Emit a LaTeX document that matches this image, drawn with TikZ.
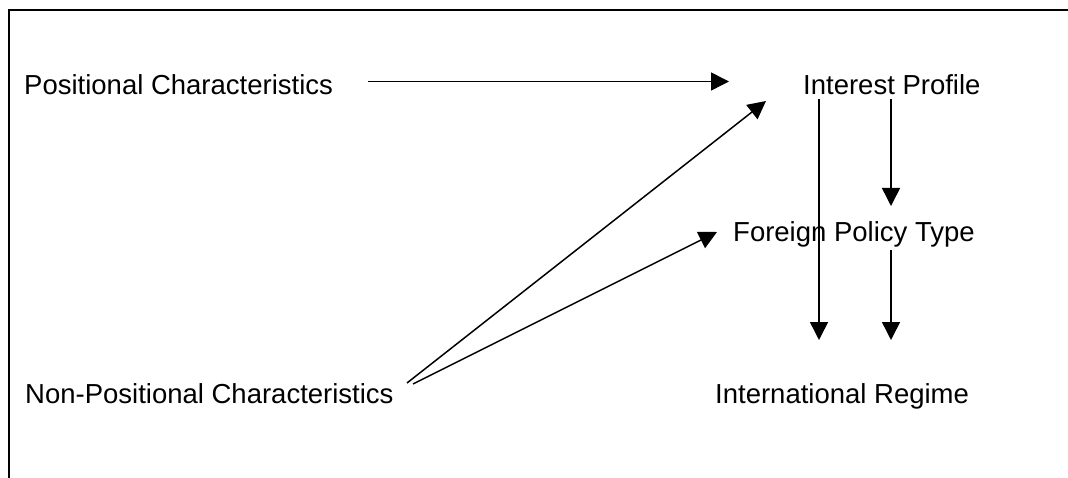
\documentclass[tikz,border=0pt]{standalone}
\usepackage{fontspec}
\setmainfont{Liberation Sans}
\usetikzlibrary{arrows.meta}
\begin{document}
\begin{tikzpicture}[x=1pt,y=-1pt,
  lbl/.style={anchor=base west,inner sep=0pt,font=\fontsize{27.5}{33}\selectfont},
  conn/.style={line width=1.5pt,-{Triangle[length=18pt,width=18pt]}}]
\useasboundingbox (0,0) rectangle (1068,478);
% frame (only top and left edges visible)
\draw[line width=2pt] (9,480) -- (9,10) -- (1070,10);
% labels
\node[lbl] (pc) at (24,95) {Positional Characteristics};
\node[lbl] (ip) at (803,95) {Interest Profile};
\node[lbl] (fp) at (733,242) {Foreign Policy Type};
\node[lbl] (npc) at (25,403) {Non-Positional Characteristics};
\node[lbl] (ir) at (715,403) {International Regime};
% connector end points
\coordinate (pcA) at (368,81.5);
\coordinate (ipW) at (729,81.5);
\coordinate (ipSW) at (766,101);
\coordinate (fpW) at (717,232);
\coordinate (npcA) at (407,383);
\coordinate (npcB) at (413,384);
\coordinate (ipL) at (819,99);
\coordinate (irL) at (819,340);
\coordinate (ipR) at (891,99);
\coordinate (fpTop) at (891,206);
\coordinate (fpBot) at (891,250);
\coordinate (irR) at (891,340);
% connectors
\draw[conn] (pcA) -- (ipW);
\draw[conn] (npcA) -- (ipSW);
\draw[conn] (npcB) -- (fpW);
\draw[conn] (ipL) -- (irL);
\draw[conn] (ipR) -- (fpTop);
\draw[conn] (fpBot) -- (irR);
\end{tikzpicture}
\end{document}
